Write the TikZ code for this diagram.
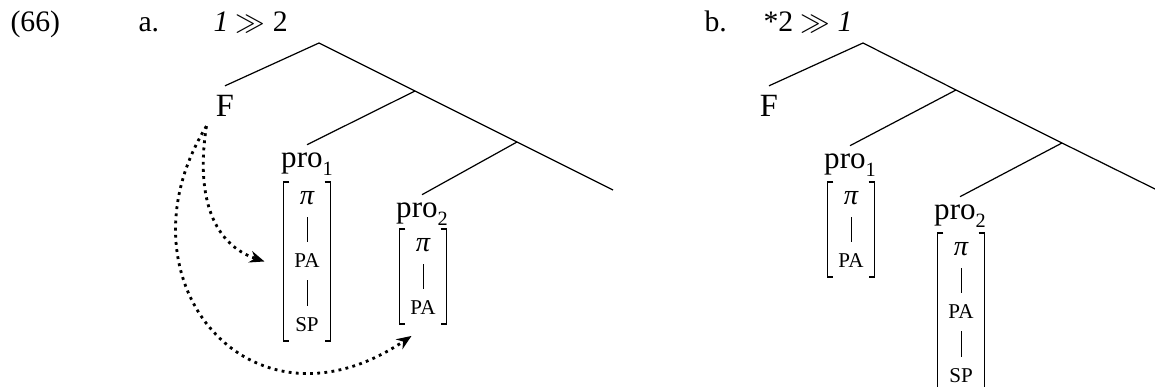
\documentclass[tikz,border=0pt]{standalone}
\usepackage{fontspec}
\setmainfont{Liberation Serif}
\usetikzlibrary{arrows.meta,fit}
\newcommand{\idx}[1]{\raisebox{-2.6pt}{\fontsize{7.5}{8}\selectfont #1}}
\tikzset{
  branch/.style={line width=0.45pt},
  exlabel/.style={font=\fontsize{11}{13}\selectfont, anchor=base west, inner sep=0pt},
  cat/.style={font=\fontsize{12}{14}\selectfont},
  pro/.style={font=\fontsize{11.5}{13}\selectfont, anchor=base, inner sep=3pt},
  feat/.style={font=\fontsize{7.8}{9}\selectfont, inner sep=0pt, minimum height=11pt},
  greek/.style={font=\fontsize{10.5}{12}\selectfont\itshape, inner sep=0pt, minimum height=11pt},
  bar/.style={line width=0.35pt, shorten <=1.4pt, shorten >=1.4pt},
  featbox/.style={inner sep=0pt, minimum width=17pt},
  brk/.style={line width=0.7pt},
  link/.style={line width=1.05pt, dash pattern=on 1.05pt off 1.6pt,
    -{Stealth[length=5.5pt,width=4.4pt]}}
}

\begin{document}
\begin{tikzpicture}[x=0.37pt, y=-0.37pt]
  \useasboundingbox (0,0) rectangle (1155,387);

  % Example labels
  \node[exlabel] (num) at (10,32) {(66)};
  \node[exlabel] (la) at (138,32) {a.};
  \node[exlabel] (ha) at (213,32) {\textit{1} $\gg$ 2};
  \node[exlabel] (lb) at (704,32) {b.};
  \node[exlabel] (hb) at (763,32) {*2 $\gg$ \textit{1}};

  % Tree a
  \coordinate (a0) at (319,43);
  \coordinate (a1) at (415,91);
  \coordinate (a2) at (517,142);
  \coordinate (a3) at (613,190);
  \node[cat] (aF) at (225,106) {F};
  \node[pro] (ap1) at (307,168) {pro\idx{1}};
  \node[pro] (ap2) at (422,218) {pro\idx{2}};
  \draw[branch] (aF.north) -- (a0) -- (a1) -- (a2) -- (a3);
  \draw[branch] (a1) -- (ap1.north);
  \draw[branch] (a2) -- (ap2.north);

  % Features of pro1 in a
  \node[greek] (api) at (307,198) {π};
  \node[feat] (apa) at (307,261) {PA};
  \node[feat] (asp) at (307,325) {SP};
  \draw[bar] (api.south) -- (apa.north);
  \draw[bar] (apa.south) -- (asp.north);
  \node[featbox, fit=(api)(asp)] (abox) {};
  \draw[brk] ([shift={(6,0)}]abox.north west) -- (abox.north west)
    -- (abox.south west) -- ([shift={(6,0)}]abox.south west);
  \draw[brk] ([shift={(-6,0)}]abox.north east) -- (abox.north east)
    -- (abox.south east) -- ([shift={(-6,0)}]abox.south east);

  % Features of pro2 in a
  \node[greek] (aqpi) at (423,245) {π};
  \node[feat] (aqpa) at (423,308) {PA};
  \draw[bar] (aqpi.south) -- (aqpa.north);
  \node[featbox, fit=(aqpi)(aqpa)] (aqbox) {};
  \draw[brk] ([shift={(6,0)}]aqbox.north west) -- (aqbox.north west)
    -- (aqbox.south west) -- ([shift={(6,0)}]aqbox.south west);
  \draw[brk] ([shift={(-6,0)}]aqbox.north east) -- (aqbox.north east)
    -- (aqbox.south east) -- ([shift={(-6,0)}]aqbox.south east);

  % Agreement links
  \draw[link] (aF.south west) .. controls (195,200) and (215,245)
    .. ([shift={(-19,0)}]abox.west);
  \draw[link] (aF.south west) .. controls (112,280) and (250,445)
    .. ([shift={(12,12)}]aqbox.south west);

  % Tree b
  \coordinate (b0) at (863,43);
  \coordinate (b1) at (956,90);
  \coordinate (b2) at (1062,143);
  \coordinate (b3) at (1155,189);
  \node[cat] (bF) at (769,106) {F};
  \node[pro] (bp1) at (850,169) {pro\idx{1}};
  \node[pro] (bp2) at (960,220) {pro\idx{2}};
  \draw[branch] (bF.north) -- (b0) -- (b1) -- (b2) -- (b3);
  \draw[branch] (b1) -- (bp1.north);
  \draw[branch] (b2) -- (bp2.north);

  % Features of pro1 in b
  \node[greek] (bpi) at (851,198) {π};
  \node[feat] (bpa) at (851,261) {PA};
  \draw[bar] (bpi.south) -- (bpa.north);
  \node[featbox, fit=(bpi)(bpa)] (bbox) {};
  \draw[brk] ([shift={(6,0)}]bbox.north west) -- (bbox.north west)
    -- (bbox.south west) -- ([shift={(6,0)}]bbox.south west);
  \draw[brk] ([shift={(-6,0)}]bbox.north east) -- (bbox.north east)
    -- (bbox.south east) -- ([shift={(-6,0)}]bbox.south east);

  % Features of pro2 in b
  \node[greek] (bqpi) at (961,249) {π};
  \node[feat] (bqpa) at (961,312) {PA};
  \node[feat] (bqsp) at (961,376) {SP};
  \draw[bar] (bqpi.south) -- (bqpa.north);
  \draw[bar] (bqpa.south) -- (bqsp.north);
  \node[featbox, fit=(bqpi)(bqsp)] (bqbox) {};
  \draw[brk] ([shift={(6,0)}]bqbox.north west) -- (bqbox.north west)
    -- (bqbox.south west) -- ([shift={(6,0)}]bqbox.south west);
  \draw[brk] ([shift={(-6,0)}]bqbox.north east) -- (bqbox.north east)
    -- (bqbox.south east) -- ([shift={(-6,0)}]bqbox.south east);
\end{tikzpicture}
\end{document}
